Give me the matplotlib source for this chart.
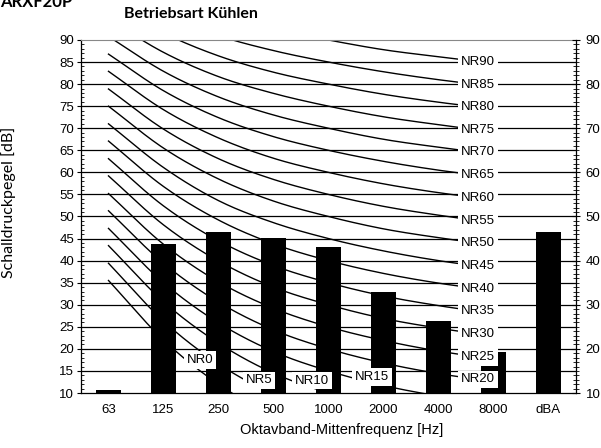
import numpy as np
import matplotlib
matplotlib.use("Agg")
import matplotlib.pyplot as plt
from matplotlib.ticker import MultipleLocator

# Octave band categories and measured levels
categories = ["63", "125", "250", "500", "1000", "2000", "4000", "8000", "dBA"]
levels = [10.7, 43.7, 46.5, 45.1, 43.2, 33.0, 26.3, 19.4, 46.6]

# NR curve table (63 Hz .. 8000 Hz)
nr_names = ["NR0", "NR5", "NR10", "NR15", "NR20", "NR25", "NR30", "NR35", "NR40",
            "NR45", "NR50", "NR55", "NR60", "NR65", "NR70", "NR75", "NR80", "NR85", "NR90"]
nr_values = [
    [35.5, 22.0, 12.0, 4.8, 0.0, -3.5, -6.1, -8.0],
    [39.4, 26.3, 16.6, 9.7, 5.0, 1.6, -1.0, -2.8],
    [43.4, 30.7, 21.3, 14.5, 10.0, 6.6, 4.2, 2.3],
    [47.3, 35.0, 25.9, 19.4, 15.0, 11.7, 9.3, 7.4],
    [51.3, 39.4, 30.6, 24.3, 20.0, 16.8, 14.4, 12.6],
    [55.2, 43.7, 35.2, 29.2, 25.0, 21.9, 19.5, 17.7],
    [59.2, 48.1, 39.9, 34.0, 30.0, 26.9, 24.7, 22.9],
    [63.1, 52.4, 44.5, 38.9, 35.0, 32.0, 29.8, 28.0],
    [67.1, 56.8, 49.2, 43.8, 40.0, 37.1, 34.9, 33.2],
    [71.0, 61.1, 53.6, 48.6, 45.0, 42.2, 40.0, 38.3],
    [75.0, 65.5, 58.5, 53.5, 50.0, 47.2, 45.2, 43.5],
    [78.9, 69.8, 63.1, 58.4, 55.0, 52.3, 50.3, 48.6],
    [82.9, 74.2, 67.8, 63.2, 60.0, 57.4, 55.4, 53.8],
    [86.8, 78.5, 72.4, 68.1, 65.0, 62.5, 60.5, 58.9],
    [90.8, 82.9, 77.1, 73.0, 70.0, 67.5, 65.7, 64.1],
    [94.7, 87.2, 81.7, 77.9, 75.0, 72.6, 70.8, 69.2],
    [98.7, 91.6, 86.4, 82.7, 80.0, 77.7, 75.9, 74.4],
    [102.6, 95.9, 91.0, 87.6, 85.0, 82.8, 81.0, 79.5],
    [106.6, 100.3, 95.7, 92.5, 90.0, 87.8, 86.2, 84.7],
]

# hand placed labels for the low curves (x index, dB)
low_label_pos = {"NR0": (1.66, 17.5), "NR5": (2.74, 12.9),
                 "NR10": (3.70, 12.8), "NR15": (4.79, 13.6)}
label_x = 6.72

TICK_FONT = "Liberation Sans"
CAL_FONT = "Lato"


def smooth(y, n=20):
    """Catmull-Rom style smoothing like spreadsheet 'smoothed lines'."""
    y = np.asarray(y, dtype=float)
    x = np.arange(len(y), dtype=float)
    yp = np.concatenate([[2 * y[0] - y[1]], y, [2 * y[-1] - y[-2]]])
    xs, ys = [], []
    for i in range(len(y) - 1):
        p0, p1, p2, p3 = yp[i], yp[i + 1], yp[i + 2], yp[i + 3]
        t = np.linspace(0, 1, n, endpoint=False)
        m1 = (p2 - p0) / 2
        m2 = (p3 - p1) / 2
        h00 = 2 * t**3 - 3 * t**2 + 1
        h10 = t**3 - 2 * t**2 + t
        h01 = -2 * t**3 + 3 * t**2
        h11 = t**3 - t**2
        xs.append(x[i] + t)
        ys.append(h00 * p1 + h10 * m1 + h01 * p2 + h11 * m2)
    xs.append([x[-1]])
    ys.append([y[-1]])
    return np.concatenate(xs), np.concatenate(ys)


fig = plt.figure(figsize=(6.01, 4.48), dpi=100)
ax = fig.add_axes([81 / 601, 1 - 393 / 448, 495 / 601, 353 / 448])

xpos = np.arange(len(categories))

# horizontal grid
for g in range(15, 90, 5):
    ax.axhline(g, color="black", lw=0.9, zorder=1)

# NR curves
for name, vals in zip(nr_names, nr_values):
    sx, sy = smooth(vals)
    ax.plot(sx, sy, color="black", lw=1.0, zorder=2)
    if name in low_label_pos:
        lx, ly = low_label_pos[name]
    else:
        lx, ly = label_x, np.interp(label_x, sx, sy)
    ax.text(lx, ly, name, ha="center", va="center", fontsize=9.5,
            family=TICK_FONT, zorder=5,
            bbox=dict(boxstyle="square,pad=0.2", fc="white", ec="none"))

# bars
ax.bar(xpos, np.array(levels) - 10, bottom=10, width=0.47, color="black", zorder=3)

ax.set_xlim(-0.5, len(categories) - 0.5)
ax.set_ylim(10, 90)
ax.set_xticks(xpos)
ax.set_xticklabels(categories, family=TICK_FONT, fontsize=9.5)
ax.tick_params(axis="x", length=0, pad=8)
ax.yaxis.set_major_locator(MultipleLocator(5))
ax.yaxis.set_minor_locator(MultipleLocator(1))
ax.tick_params(axis="y", which="major", direction="out", length=3, width=0.8,
               labelsize=9.5, pad=2)
ax.tick_params(axis="y", which="minor", direction="in", length=2, width=0.6)
for lab in ax.get_yticklabels():
    lab.set_family(TICK_FONT)

ax.spines["top"].set_color("#888888")
ax.spines["right"].set_visible(False)
for s in ["left", "bottom"]:
    ax.spines[s].set_color("black")
    ax.spines[s].set_linewidth(0.9)

# right axis
ax2 = ax.twinx()
ax2.set_ylim(10, 90)
ax2.yaxis.set_major_locator(MultipleLocator(10))
ax2.yaxis.set_minor_locator(MultipleLocator(1))
ax2.tick_params(axis="y", which="major", direction="inout", length=6, width=0.8,
                labelsize=9.5, pad=4)
ax2.tick_params(axis="y", which="minor", direction="inout", length=5, width=0.6)
for lab in ax2.get_yticklabels():
    lab.set_family(TICK_FONT)
for s in ["left", "top", "bottom"]:
    ax2.spines[s].set_visible(False)
ax2.spines["right"].set_color("black")
ax2.spines["right"].set_linewidth(0.9)

# texts
fig.text(342 / 601, 1 - 430 / 448, "Oktavband-Mittenfrequenz [Hz]", ha="center",
         va="center", fontsize=10.5, family=TICK_FONT)
fig.text(9 / 601, 1 - 202 / 448, "Schalldruckpegel [dB]", rotation=90, ha="center",
         va="center", fontsize=11.5, family=CAL_FONT)
fig.text(191 / 601, 1 - 14 / 448, "Betriebsart Kühlen", ha="center", va="center",
         fontsize=11.5, fontweight="bold", family=CAL_FONT)
fig.text(0.0, 1 - 7 / 448, "ARXF20P", ha="left", va="baseline",
         fontsize=12, fontweight="bold", family=CAL_FONT)

fig.savefig("out.png", dpi=100)
